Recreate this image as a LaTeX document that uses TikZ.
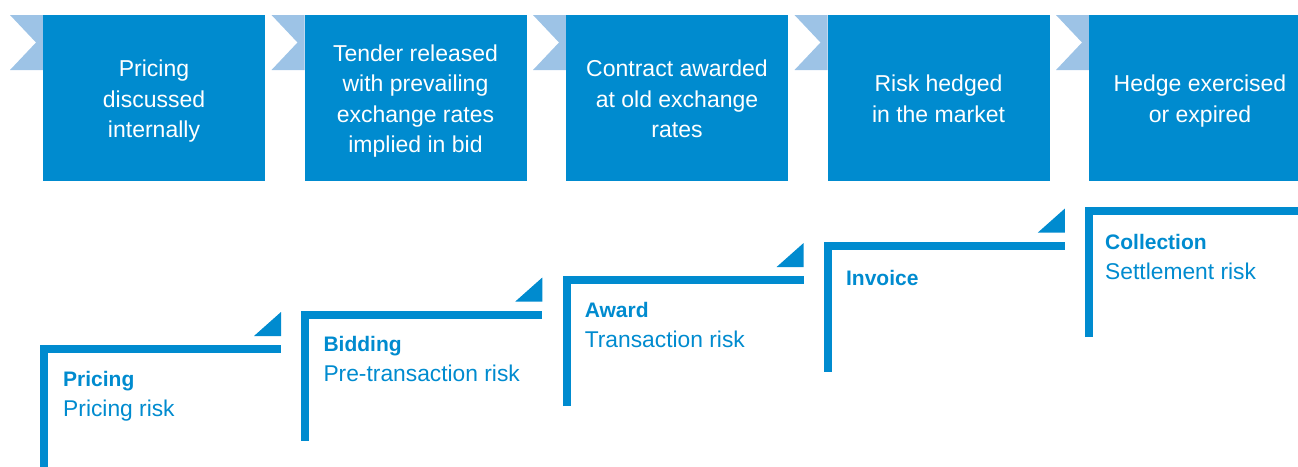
\documentclass[tikz,border=0pt]{standalone}
\usepackage{fontspec}
\setmainfont{Liberation Sans}
\definecolor{cblue}{RGB}{0,139,207}
\definecolor{clight}{RGB}{157,195,230}
\tikzset{
  stepbox/.style={rectangle, fill=cblue, minimum width=222pt, minimum height=166pt, inner sep=0pt},
  boxtext/.style={text=white, inner sep=0pt, align=center, font=\fontsize{23}{30.5}\selectfont},
  chev/.style={fill=clight},
  bracketline/.style={draw=cblue, line width=8pt, line join=miter, line cap=butt},
  corner/.style={fill=cblue},
  lbltitle/.style={anchor=base west, inner sep=0pt, text=cblue, font=\fontsize{21}{25}\selectfont\bfseries},
  lbltext/.style={anchor=base west, inner sep=0pt, text=cblue, font=\fontsize{22.8}{25}\selectfont}
}
\begin{document}
\begin{tikzpicture}[x=1pt,y=-1pt]
\useasboundingbox (0,0) rectangle (1298,466);
\clip (0,0) rectangle (1298,466);
% chevrons
\foreach \i in {0,...,4}{
  \pgfmathsetmacro{\xl}{43+261.5*\i}
  \fill[chev] (\xl-33,15) -- (\xl,15) -- (\xl,70) -- (\xl-33,70) -- (\xl-7,42.5) -- cycle;
}
% boxes
\node[stepbox] (b1) at (154,98) {};
\node[stepbox] (b2) at (415.5,98) {};
\node[stepbox] (b3) at (677,98) {};
\node[stepbox] (b4) at (938.5,98) {};
\node[stepbox] (b5) at (1200,98) {};
\node[boxtext] (x1) at ([yshift=-3pt]b1.center) {\strut Pricing\\discussed\\internally\strut};
\node[boxtext] (x2) at ([yshift=-3pt]b2.center) {\strut Tender released\\with prevailing\\exchange rates\\implied in bid\strut};
\node[boxtext] (x3) at ([yshift=-3pt]b3.center) {\strut Contract awarded\\at old exchange\\rates\strut};
\node[boxtext] (x4) at ([yshift=-3pt]b4.center) {\strut Risk hedged\\in the market\strut};
\node[boxtext] (x5) at ([yshift=-3pt]b5.center) {\strut Hedge exercised\\or expired\strut};
% brackets
\foreach \i in {0,...,4}{
  \pgfmathsetmacro{\xl}{40+261.3*\i}
  \pgfmathsetmacro{\yt}{345-34.5*\i}
  \draw[bracketline] (\xl+4,\yt+130) -- (\xl+4,\yt+4) -- (\xl+241,\yt+4);
  \fill[corner] (\xl+214,\yt-9) -- (\xl+241,\yt-9) -- (\xl+241,\yt-33) -- cycle;
}
% labels
\node[lbltitle] (t1) at (63,386) {Pricing};
\node[lbltext] (s1) at (63,416) {Pricing risk};
\node[lbltitle] (t2) at (323.3,351.5) {Bidding};
\node[lbltext] (s2) at (323.3,381.5) {Pre-transaction risk};
\node[lbltitle] (t3) at (584.6,317) {Award};
\node[lbltext] (s3) at (584.6,347) {Transaction risk};
\node[lbltitle] (t4) at (845.9,285) {Invoice};
\node[lbltitle] (t5) at (1105,249) {Collection};
\node[lbltext] (s5) at (1105,279) {Settlement risk};
\end{tikzpicture}
\end{document}
